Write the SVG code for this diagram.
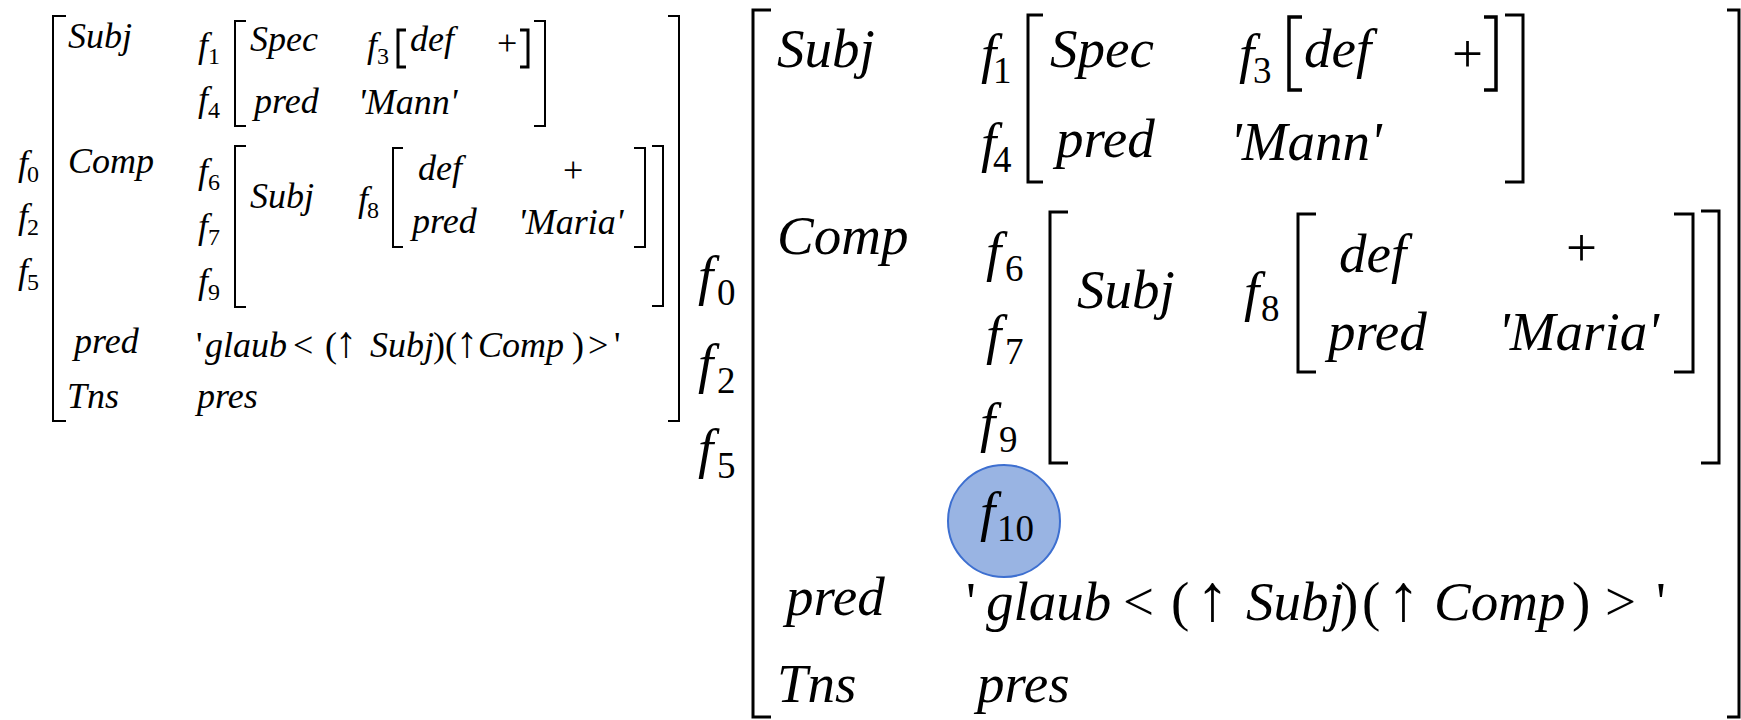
<svg xmlns="http://www.w3.org/2000/svg" width="1741" height="720" viewBox="0 0 1741 720" font-family="Liberation Serif">
<rect width="1741" height="720" fill="#fff"/>
<g id="brackets" fill="none" stroke="#000">
  <g id="left-brackets" stroke-width="2">
    <path d="M66,16H53V421H66"/>
    <path d="M668,16H679V421H668"/>
    <path d="M246,21H235V126H246"/>
    <path d="M534,21H545V126H534"/>
    <path d="M406,30H398V67H406" stroke-width="3"/>
    <path d="M520,30H528V67H520" stroke-width="3"/>
    <path d="M246,146H235V307H246"/>
    <path d="M403,148H393V247H403"/>
    <path d="M634,148H645V247H634"/>
    <path d="M652,146H663V306H652"/>
  </g>
  <g id="right-brackets" stroke-width="3">
    <path d="M771,10H753V717H771"/>
    <path d="M1727,10H1739V717H1727"/>
    <path d="M1043,15H1028V182H1043"/>
    <path d="M1505,15H1523V182H1505"/>
    <path d="M1302,17H1289V90H1302" stroke-width="3.5"/>
    <path d="M1484,17H1496V90H1484" stroke-width="3.5"/>
    <path d="M1068,212H1050V463H1068"/>
    <path d="M1316,214H1298V372H1316"/>
    <path d="M1674,214H1693V372H1674"/>
    <path d="M1701,211H1719V463H1701"/>
  </g>
</g>
<g id="left-avm" fill="#000">
  <text style="font-family:'Liberation Serif','Times New Roman',serif;font-style:italic" font-size="36" x="18" y="175">f<tspan font-style="normal" font-size="24" x="27" y="182">0</tspan></text>
  <text style="font-family:'Liberation Serif','Times New Roman',serif;font-style:italic" font-size="36" x="18" y="228">f<tspan font-style="normal" font-size="24" x="27" y="235">2</tspan></text>
  <text style="font-family:'Liberation Serif','Times New Roman',serif;font-style:italic" font-size="36" x="18" y="283">f<tspan font-style="normal" font-size="24" x="27" y="290">5</tspan></text>
  <text style="font-family:'Liberation Serif','Times New Roman',serif;font-style:italic" font-size="36" x="68" y="48">Subj</text>
  <text style="font-family:'Liberation Serif','Times New Roman',serif;font-style:italic" font-size="36" x="198" y="57">f<tspan font-style="normal" font-size="24" x="208" y="64">1</tspan></text>
  <text style="font-family:'Liberation Serif','Times New Roman',serif;font-style:italic" font-size="36" x="198" y="111">f<tspan font-style="normal" font-size="24" x="208" y="118">4</tspan></text>
  <text style="font-family:'Liberation Serif','Times New Roman',serif;font-style:italic" font-size="36" x="250" y="51">Spec</text>
  <text style="font-family:'Liberation Serif','Times New Roman',serif;font-style:italic" font-size="36" x="254" y="113">pred</text>
  <text style="font-family:'Liberation Serif','Times New Roman',serif;font-style:italic" font-size="36" x="367" y="57">f<tspan font-style="normal" font-size="24" x="377" y="64">3</tspan></text>
  <text style="font-family:'Liberation Serif','Times New Roman',serif;font-style:italic" font-size="36" x="410" y="51">def</text>
  <text style="font-family:'Liberation Serif','Times New Roman',serif" font-size="36" x="497" y="55">+</text>
  <text style="font-family:'Liberation Serif','Times New Roman',serif;font-style:italic" font-size="36" x="358" y="114">'Mann'</text>
  <text style="font-family:'Liberation Serif','Times New Roman',serif;font-style:italic" font-size="36" x="68" y="173">Comp</text>
  <text style="font-family:'Liberation Serif','Times New Roman',serif;font-style:italic" font-size="36" x="198" y="183">f<tspan font-style="normal" font-size="24" x="208" y="190">6</tspan></text>
  <text style="font-family:'Liberation Serif','Times New Roman',serif;font-style:italic" font-size="36" x="198" y="238">f<tspan font-style="normal" font-size="24" x="208" y="245">7</tspan></text>
  <text style="font-family:'Liberation Serif','Times New Roman',serif;font-style:italic" font-size="36" x="198" y="293">f<tspan font-style="normal" font-size="24" x="208" y="300">9</tspan></text>
  <text style="font-family:'Liberation Serif','Times New Roman',serif;font-style:italic" font-size="36" x="250" y="208">Subj</text>
  <text style="font-family:'Liberation Serif','Times New Roman',serif;font-style:italic" font-size="36" x="358" y="211">f<tspan font-style="normal" font-size="24" x="367" y="218">8</tspan></text>
  <text style="font-family:'Liberation Serif','Times New Roman',serif;font-style:italic" font-size="36" x="418" y="180">def</text>
  <text style="font-family:'Liberation Serif','Times New Roman',serif" font-size="36" x="563" y="182">+</text>
  <text style="font-family:'Liberation Serif','Times New Roman',serif;font-style:italic" font-size="36" x="412" y="233">pred</text>
  <text style="font-family:'Liberation Serif','Times New Roman',serif;font-style:italic" font-size="36" x="518" y="234">'Maria'</text>
  <text style="font-family:'Liberation Serif','Times New Roman',serif;font-style:italic" font-size="36" x="74" y="353">pred</text>
  <text style="font-family:'Liberation Serif','Times New Roman',serif;font-style:italic" font-size="36" y="357"><tspan font-style="normal" x="196">'</tspan><tspan x="205">glaub</tspan><tspan font-style="normal" x="293">&lt;</tspan><tspan font-style="normal" x="325">(</tspan><tspan font-style="normal" font-size="44" x="335">↑</tspan><tspan x="370">Subj</tspan><tspan font-style="normal" x="433">)</tspan><tspan font-style="normal" x="445">(</tspan><tspan font-style="normal" font-size="44" x="456">↑</tspan><tspan x="478">Comp</tspan><tspan font-style="normal" x="572">)</tspan><tspan font-style="normal" x="588">&gt;</tspan><tspan font-style="normal" x="614">'</tspan></text>
  <text style="font-family:'Liberation Serif','Times New Roman',serif;font-style:italic" font-size="36" x="67" y="408">Tns</text>
  <text style="font-family:'Liberation Serif','Times New Roman',serif;font-style:italic" font-size="36" x="197" y="408">pres</text>
</g>
<g id="middle-labels" fill="#000">
  <text style="font-family:'Liberation Serif','Times New Roman',serif;font-style:italic" font-size="55" x="698" y="294">f<tspan font-style="normal" font-size="37" x="717" y="305">0</tspan></text>
  <text style="font-family:'Liberation Serif','Times New Roman',serif;font-style:italic" font-size="55" x="698" y="382">f<tspan font-style="normal" font-size="37" x="717" y="393">2</tspan></text>
  <text style="font-family:'Liberation Serif','Times New Roman',serif;font-style:italic" font-size="55" x="698" y="467">f<tspan font-style="normal" font-size="37" x="717" y="478">5</tspan></text>
</g>
<g id="right-avm" fill="#000">
  <text style="font-family:'Liberation Serif','Times New Roman',serif;font-style:italic" font-size="55" x="777" y="67">Subj</text>
  <text style="font-family:'Liberation Serif','Times New Roman',serif;font-style:italic" font-size="55" x="981" y="72">f<tspan font-style="normal" font-size="37" x="993" y="83">1</tspan></text>
  <text style="font-family:'Liberation Serif','Times New Roman',serif;font-style:italic" font-size="55" x="981" y="161">f<tspan font-style="normal" font-size="37" x="993" y="172">4</tspan></text>
  <text style="font-family:'Liberation Serif','Times New Roman',serif;font-style:italic" font-size="55" x="1050" y="67">Spec</text>
  <text style="font-family:'Liberation Serif','Times New Roman',serif;font-style:italic" font-size="55" x="1056" y="157">pred</text>
  <text style="font-family:'Liberation Serif','Times New Roman',serif;font-style:italic" font-size="55" x="1239" y="72">f<tspan font-style="normal" font-size="37" x="1253" y="83">3</tspan></text>
  <text style="font-family:'Liberation Serif','Times New Roman',serif;font-style:italic" font-size="55" x="1304" y="67">def</text>
  <text style="font-family:'Liberation Serif','Times New Roman',serif" font-size="55" x="1452" y="72">+</text>
  <text style="font-family:'Liberation Serif','Times New Roman',serif;font-style:italic" font-size="55" x="1230" y="160">'Mann'</text>
  <text style="font-family:'Liberation Serif','Times New Roman',serif;font-style:italic" font-size="55" x="777" y="254">Comp</text>
  <text style="font-family:'Liberation Serif','Times New Roman',serif;font-style:italic" font-size="55" x="986" y="270">f<tspan font-style="normal" font-size="37" x="1005" y="281">6</tspan></text>
  <text style="font-family:'Liberation Serif','Times New Roman',serif;font-style:italic" font-size="55" x="986" y="353">f<tspan font-style="normal" font-size="37" x="1005" y="364">7</tspan></text>
  <text style="font-family:'Liberation Serif','Times New Roman',serif;font-style:italic" font-size="55" x="980" y="441">f<tspan font-style="normal" font-size="37" x="999" y="452">9</tspan></text>
  <text style="font-family:'Liberation Serif','Times New Roman',serif;font-style:italic" font-size="55" x="1077" y="308">Subj</text>
  <text style="font-family:'Liberation Serif','Times New Roman',serif;font-style:italic" font-size="55" x="1244" y="310">f<tspan font-style="normal" font-size="37" x="1261" y="321">8</tspan></text>
  <text style="font-family:'Liberation Serif','Times New Roman',serif;font-style:italic" font-size="55" x="1339" y="272">def</text>
  <text style="font-family:'Liberation Serif','Times New Roman',serif" font-size="55" x="1566" y="266">+</text>
  <text style="font-family:'Liberation Serif','Times New Roman',serif;font-style:italic" font-size="55" x="1328" y="350">pred</text>
  <text style="font-family:'Liberation Serif','Times New Roman',serif;font-style:italic" font-size="55" x="1498" y="350">'Maria'</text>
  <text style="font-family:'Liberation Serif','Times New Roman',serif;font-style:italic" font-size="55" x="786" y="615">pred</text>
  <text style="font-family:'Liberation Serif','Times New Roman',serif;font-style:italic" font-size="55" y="620"><tspan font-style="normal" x="966">'</tspan><tspan x="986">glaub</tspan><tspan font-style="normal" x="1123">&lt;</tspan><tspan font-style="normal" x="1171">(</tspan><tspan font-style="normal" font-size="66" x="1196">↑</tspan><tspan x="1246">Subj</tspan><tspan font-style="normal" x="1340">)</tspan><tspan font-style="normal" x="1362">(</tspan><tspan font-style="normal" font-size="66" x="1387">↑</tspan><tspan x="1434">Comp</tspan><tspan font-style="normal" x="1572">)</tspan><tspan font-style="normal" x="1605">&gt;</tspan><tspan font-style="normal" x="1656">'</tspan></text>
  <text style="font-family:'Liberation Serif','Times New Roman',serif;font-style:italic" font-size="55" x="777" y="702">Tns</text>
  <text style="font-family:'Liberation Serif','Times New Roman',serif;font-style:italic" font-size="55" x="977" y="702">pres</text>
</g>
<g id="f10-highlight">
  <circle cx="1004" cy="521" r="56" fill="#99b4e3" stroke="#3d6fd0" stroke-width="2"/>
  <text style="font-family:'Liberation Serif','Times New Roman',serif;font-style:italic" font-size="55" fill="#000" x="980" y="530">f<tspan font-style="normal" font-size="37" x="997" y="541">10</tspan></text>
</g>
</svg>
